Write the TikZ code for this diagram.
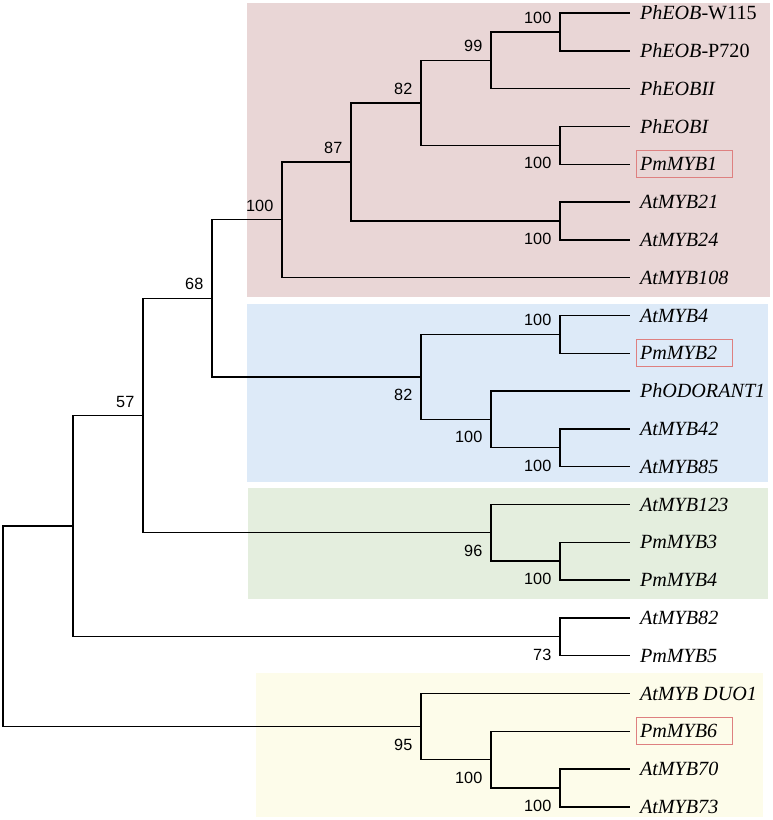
\documentclass[tikz,border=0pt]{standalone}
\usepackage{fontspec}
\setmainfont{Liberation Serif}
\newfontfamily\numfont{Liberation Sans}
\definecolor{cladepink}{HTML}{E9D6D6}
\definecolor{cladeblue}{HTML}{DDEAF8}
\definecolor{cladegreen}{HTML}{E4EEDE}
\definecolor{cladeyellow}{HTML}{FDFCEA}
\definecolor{boxred}{HTML}{DE8080}
\newcommand{\leaffont}{\fontsize{14.5pt}{17pt}\selectfont\itshape}
\newcommand{\bsfont}{\numfont\fontsize{11.7pt}{14pt}\selectfont}

\begin{document}
\begin{tikzpicture}[x=0.72pt, y=-0.72pt, line width=1pt]
\tikzstyle{leaf}=[font=\leaffont, anchor=west, inner xsep=2.88pt, inner ysep=3.5pt,
    outer xsep=4.32pt, outer ysep=0pt, text height=11pt, text depth=1.4pt]
\tikzstyle{hl}=[draw=boxred, line width=0.6pt, text width=63.4pt, align=left]
\tikzstyle{bsup}=[font=\bsfont, inner sep=0pt, anchor=south east]
\tikzstyle{bsdn}=[font=\bsfont, inner sep=0pt, anchor=north east]
\useasboundingbox (0,0) rectangle (773,820);
% clade shading
\fill[cladepink] (247,3) rectangle (770,297);
\fill[cladeblue] (247,304) rectangle (768,482);
\fill[cladegreen] (248,488) rectangle (768,599);
\fill[cladeyellow] (256,673) rectangle (763,817);
% leaves
\node (t0) [leaf] at (630,13) {PhEOB\textup{-W115}};
\node (t1) [leaf] at (630,50.8) {PhEOB\textup{-P720}};
\node (t2) [leaf] at (630,88.6) {PhEOBII};
\node (t3) [leaf] at (630,126.4) {PhEOBI};
\node (t4) [leaf,hl] at (630,164.2) {PmMYB1};
\node (t5) [leaf] at (630,202) {AtMYB21};
\node (t6) [leaf] at (630,239.8) {AtMYB24};
\node (t7) [leaf] at (630,277.6) {AtMYB108};
\node (t8) [leaf] at (630,315.4) {AtMYB4};
\node (t9) [leaf,hl] at (630,353.2) {PmMYB2};
\node (t10) [leaf] at (630,391) {PhODORANT1};
\node (t11) [leaf] at (630,428.8) {AtMYB42};
\node (t12) [leaf] at (630,466.6) {AtMYB85};
\node (t13) [leaf] at (630,504.4) {AtMYB123};
\node (t14) [leaf] at (630,542.2) {PmMYB3};
\node (t15) [leaf] at (630,580) {PmMYB4};
\node (t16) [leaf] at (630,617.8) {AtMYB82};
\node (t17) [leaf] at (630,655.6) {PmMYB5};
\node (t18) [leaf] at (630,693.4) {AtMYB DUO1};
\node (t19) [leaf,hl] at (630,731.2) {PmMYB6};
\node (t20) [leaf] at (630,769) {AtMYB70};
\node (t21) [leaf] at (630,806.8) {AtMYB73};
% inner nodes
\coordinate (a) at (560,31.9);
\coordinate (b) at (491,60.25);
\coordinate (c) at (560,145.3);
\coordinate (d) at (421,102.8);
\coordinate (e) at (560,220.9);
\coordinate (f) at (351,161.8);
\coordinate (g) at (282,219.7);
\coordinate (h) at (560,334.3);
\coordinate (j) at (560,447.7);
\coordinate (k) at (491,419.35);
\coordinate (l) at (421,376.8);
\coordinate (m) at (212,298.3);
\coordinate (n) at (560,561.1);
\coordinate (o) at (491,532.75);
\coordinate (p) at (143,415.5);
\coordinate (q) at (560,636.7);
\coordinate (r) at (73,526.1);
\coordinate (s) at (560,787.9);
\coordinate (u) at (491,759.55);
\coordinate (v) at (421,726.5);
\coordinate (w) at (3,626.2);
% branches
\draw (a) |- (t0.west) (a) |- (t1.west);
\draw (b) |- (a) (b) |- (t2.west);
\draw (c) |- (t3.west) (c) |- (t4.west);
\draw (d) |- (b) (d) |- (c);
\draw (e) |- (t5.west) (e) |- (t6.west);
\draw (f) |- (d) (f) |- (e);
\draw (g) |- (f) (g) |- (t7.west);
\draw (h) |- (t8.west) (h) |- (t9.west);
\draw (j) |- (t11.west) (j) |- (t12.west);
\draw (k) |- (t10.west) (k) |- (j);
\draw (l) |- (h) (l) |- (k);
\draw (m) |- (g) (m) |- (l);
\draw (n) |- (t14.west) (n) |- (t15.west);
\draw (o) |- (t13.west) (o) |- (n);
\draw (p) |- (m) (p) |- (o);
\draw (q) |- (t16.west) (q) |- (t17.west);
\draw (r) |- (p) (r) |- (q);
\draw (s) |- (t20.west) (s) |- (t21.west);
\draw (u) |- (t19.west) (u) |- (s);
\draw (v) |- (t18.west) (v) |- (u);
\draw (w) |- (r) (w) |- (v);
% bootstrap values
\node (bs-a) [bsup] at ([shift={(-8,-7.5)}]a) {100};
\node (bs-b) [bsup] at ([shift={(-8,-7.5)}]b) {99};
\node (bs-d) [bsup] at ([shift={(-8,-7.5)}]d) {82};
\node (bs-f) [bsup] at ([shift={(-8,-7.5)}]f) {87};
\node (bs-g) [bsup] at ([shift={(-8,-7.5)}]g) {100};
\node (bs-m) [bsup] at ([shift={(-8,-7.5)}]m) {68};
\node (bs-p) [bsup] at ([shift={(-8,-7.5)}]p) {57};
\node (bs-h) [bsup] at ([shift={(-8,-7.5)}]h) {100};
\node (bs-c) [bsdn] at ([shift={(-8,11.6)}]c) {100};
\node (bs-e) [bsdn] at ([shift={(-8,11.6)}]e) {100};
\node (bs-l) [bsdn] at ([shift={(-8,11.6)}]l) {82};
\node (bs-k) [bsdn] at ([shift={(-8,11.6)}]k) {100};
\node (bs-j) [bsdn] at ([shift={(-8,11.6)}]j) {100};
\node (bs-o) [bsdn] at ([shift={(-8,11.6)}]o) {96};
\node (bs-n) [bsdn] at ([shift={(-8,11.6)}]n) {100};
\node (bs-q) [bsdn] at ([shift={(-8,11.6)}]q) {73};
\node (bs-v) [bsdn] at ([shift={(-8,11.6)}]v) {95};
\node (bs-u) [bsdn] at ([shift={(-8,11.6)}]u) {100};
\node (bs-s) [bsdn] at ([shift={(-8,11.6)}]s) {100};
\end{tikzpicture}
\end{document}
